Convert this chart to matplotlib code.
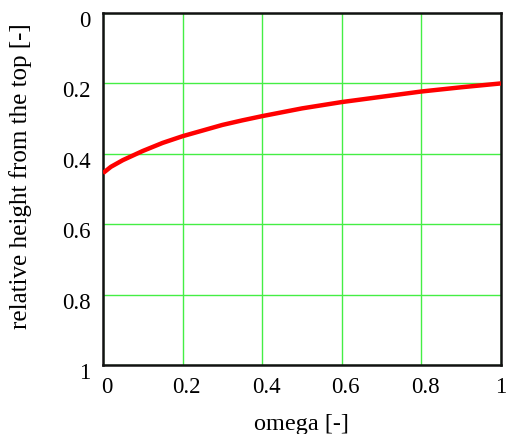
import numpy as np
import matplotlib
matplotlib.use("Agg")
import matplotlib.pyplot as plt
import matplotlib.transforms as mtransforms

# values
omega = [0.0, 0.01, 0.02, 0.05, 0.1, 0.15, 0.2, 0.25, 0.3, 0.35, 0.4,
         0.5, 0.6, 0.7, 0.8, 0.9, 1.0]
height = [0.455, 0.446, 0.437, 0.418, 0.392, 0.369, 0.350, 0.334, 0.318,
          0.305, 0.293, 0.271, 0.253, 0.238, 0.223, 0.211, 0.200]

xticks = [0, 0.2, 0.4, 0.6, 0.8, 1]
xtick_labels = ["0", "0.2", "0.4", "0.6", "0.8", "1"]
yticks = [0, 0.2, 0.4, 0.6, 0.8, 1]
ytick_labels = ["0", "0.2", "0.4", "0.6", "0.8", "1"]

plt.rcParams["font.family"] = ["Liberation Serif", "DejaVu Serif"]

fig = plt.figure(figsize=(5.07, 4.34), dpi=100)
ax = fig.add_axes([0.203, 0.159, 0.785, 0.811])

ax.plot(omega, height, color="#ff0000", linewidth=3.2, solid_capstyle="butt", zorder=3)

ax.set_xlim(0, 1)
ax.set_ylim(1, 0)
ax.set_xticks(xticks)
ax.set_xticklabels(xtick_labels)
ax.set_yticks(yticks)
ax.set_yticklabels(ytick_labels)
ax.tick_params(axis="both", length=0, labelsize=16.5, colors="black")
ax.tick_params(axis="x", pad=9)
ax.tick_params(axis="y", pad=9)

# tick labels in the reference sit a little right / below their grid lines
xlabels = ax.get_xticklabels()
for i, lbl in enumerate(xlabels):
    shift = 4 if i < len(xlabels) - 1 else 0
    lbl.set_transform(lbl.get_transform() + mtransforms.ScaledTranslation(shift / 100, 0, fig.dpi_scale_trans))
for lbl in ax.get_yticklabels():
    lbl.set_verticalalignment("top")
    lbl.set_transform(lbl.get_transform() + mtransforms.ScaledTranslation(0, 2 / 100, fig.dpi_scale_trans))

ax.grid(True, color="#44ee44", linewidth=1.0)
ax.set_axisbelow(True)
for s in ax.spines.values():
    s.set_linewidth(1.8)
    s.set_color("#111111")

ax.set_xlabel("omega [-]", fontsize=17.5, labelpad=11)
ax.set_ylabel("relative height from the top [-]", fontsize=18)
ax.yaxis.set_label_coords(-0.178, 0.537)

fig.savefig("out.png", dpi=100)
